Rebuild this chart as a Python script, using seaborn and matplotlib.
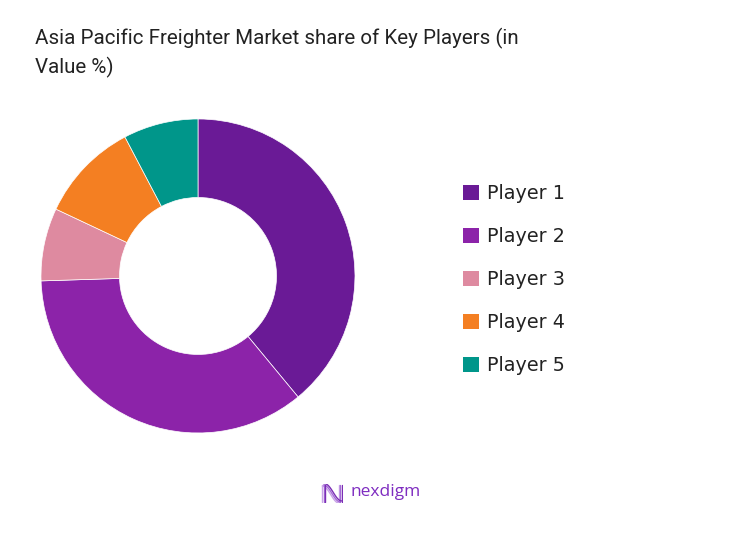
import numpy as np
import matplotlib
matplotlib.use("Agg")
import matplotlib.pyplot as plt
import seaborn as sns
from matplotlib.patches import Patch

players = ["Player 1", "Player 2", "Player 3", "Player 4", "Player 5"]
shares = [39.0, 35.5, 7.5, 10.3, 7.7]
colors = ["#6a1a96", "#8c23a9", "#de8aa0", "#f47f22", "#00968a"]

title = "Asia Pacific Freighter Market share of Key Players (in\nValue %)"

sns.set_theme(style="white")
plt.rcParams['font.family'] = ['Roboto', 'DejaVu Sans']

fig = plt.figure(figsize=(7.41, 5.48), dpi=100)
fig.patch.set_facecolor("white")

ax = fig.add_axes([0.0553, 0.2099, 0.4238, 0.573])
ax.pie(shares, colors=colors, startangle=90, counterclock=False,
       radius=1.0, wedgeprops=dict(width=0.5, edgecolor="white", linewidth=0.5))
ax.set_xlim(-1, 1)
ax.set_ylim(-1, 1)
ax.set_aspect("equal")
ax.axis("off")

# title (baseline of the last line)
fig.text(35 / 741, 1 - 73 / 548, title, fontsize=14.8, color="#222222",
         ha="left", va="baseline", linespacing=1.45)

handles = [Patch(facecolor=c, edgecolor="none") for c in colors]
fig.legend(handles, players, loc="upper left",
           bbox_to_anchor=(446 / 741, 1 - 167 / 548), frameon=False,
           prop={'family': ['DejaVu Sans'], 'size': 13.8},
           labelspacing=1.25, handlelength=0.8, handleheight=0.8,
           handletextpad=0.45, labelcolor="#222222")

# logo
fig.text(351 / 741, 1 - 492 / 548, "nexdigm", fontsize=12.5, color="#7e2cc0",
         fontweight="medium", ha="left", va="center",
         family=['Open Sans', 'DejaVu Sans'])
lax = fig.add_axes([321 / 741, 1 - 503 / 548, 22 / 741, 19 / 548])
lax.axis("off")
t = np.linspace(0, 1, 60)
for k, c in enumerate(["#c9a3e8", "#a46ad6", "#7b2fb5"]):
    off = (k - 1) * 0.06
    lax.plot(0.08 + off + 0.0 * t, 0.05 + 0.9 * t, color=c, lw=1)
    lax.plot(0.08 + off + 0.84 * t, 0.5 + 0.45 * np.cos(np.pi * t) + off, color=c, lw=1)
    lax.plot(0.92 + off + 0.0 * t, 0.05 + 0.9 * t, color=c, lw=1)
lax.set_xlim(-0.05, 1.05)
lax.set_ylim(0, 1)

fig.savefig("out.png", dpi=100)
